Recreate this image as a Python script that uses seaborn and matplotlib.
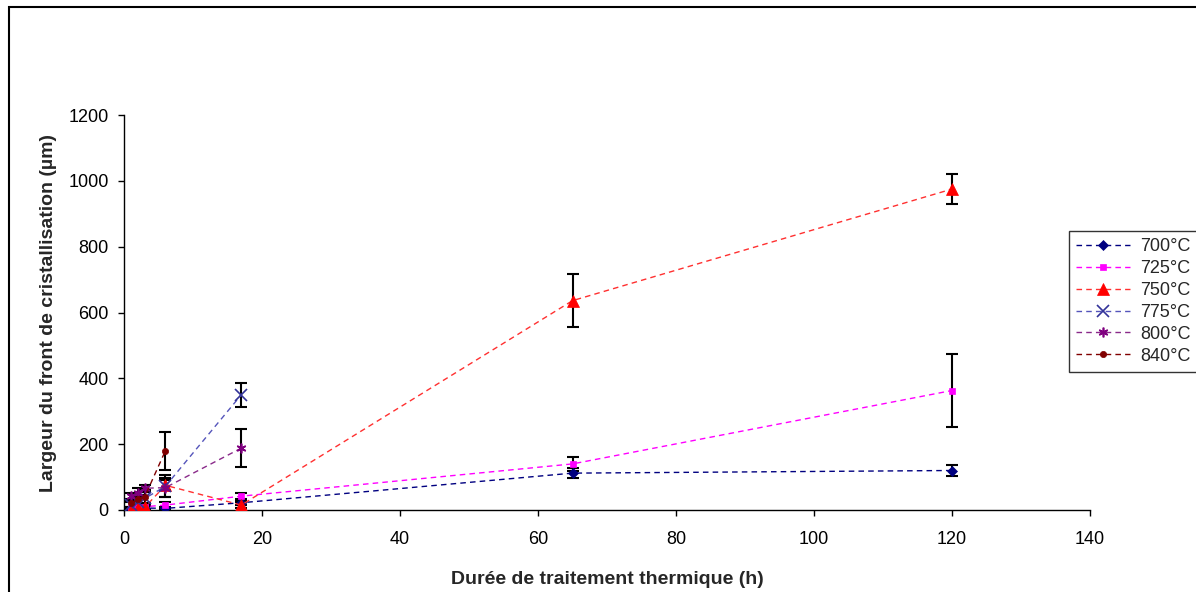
import numpy as np
import pandas as pd
import matplotlib
matplotlib.use("Agg")
import matplotlib.pyplot as plt
import seaborn as sns
from matplotlib.patches import Rectangle

# durations (h) and measured widths (um) per temperature
hours_long = [1, 2, 3, 6, 17, 65, 120]
hours_mid = [1, 2, 3, 6, 17]
hours_short = [1, 2, 3, 6]

w700 = [2, 4, 6, 5, 22, 112, 120]
e700 = [3, 4, 5, 5, 6, 15, 18]
w725 = [5, 8, 10, 15, 42, 140, 363]
e725 = [5, 6, 8, 8, 10, 20, 110]
w750 = [0, 5, 8, 75, 15, 636, 975]
e750 = [5, 8, 10, 15, 8, 80, 45]
w775 = [15, 25, 35, 72, 350]
e775 = [10, 15, 20, 33, 36]
w800 = [42, 52, 66, 68, 188]
e800 = [10, 15, 10, 30, 58]
w840 = [20, 32, 40, 180]
e840 = [10, 15, 20, 57]

labels = ["700°C", "725°C", "750°C", "775°C", "800°C", "840°C"]
colors = ["#000080", "#FF00FF", "#FF0000", "#333399", "#800080", "#800000"]
line_colors = ["#000080", "#FF00FF", "#FF3030", "#5555BB", "#8A2A8A", "#800000"]
markers = ["D", "s", "^", "x", (6, 2, 0), "o"]
msizes = [5, 4.5, 8.5, 8, 7, 4.5]

series = [
    (hours_long, w700, e700),
    (hours_long, w725, e725),
    (hours_long, w750, e750),
    (hours_mid, w775, e775),
    (hours_mid, w800, e800),
    (hours_short, w840, e840),
]

sns.set_theme(style="ticks")
plt.rcParams["font.family"] = ["Liberation Sans", "DejaVu Sans"]

fig = plt.figure(figsize=(11.96, 5.92), dpi=100)
ax = fig.add_axes([124 / 1196, 1 - 510 / 592, 966 / 1196, 395 / 592])

for (x, y, e), lab, col, lcol, mk, ms in zip(series, labels, colors, line_colors,
                                              markers, msizes):
    ax.errorbar(x, y, yerr=e, fmt="none", ecolor="black", elinewidth=1.5,
                capsize=4, capthick=1.5, zorder=2)
    df = pd.DataFrame({"h": x, "w": y})
    sns.lineplot(data=df, x="h", y="w", ax=ax, color=lcol, marker=mk,
                 markersize=ms, markeredgecolor=col, markerfacecolor=col,
                 markeredgewidth=1.2 if mk in ("x", (6, 2, 0)) else 0.5,
                 linestyle=(0, (4, 3)), linewidth=1.0, label=lab,
                 errorbar=None, sort=False, zorder=3)

ax.set_xlim(0, 140)
ax.set_ylim(0, 1200)
ax.set_xticks(np.arange(0, 141, 20))
ax.set_yticks(np.arange(0, 1201, 200))
ax.tick_params(axis="both", labelsize=13, length=4.5, width=1, colors="black",
               direction="out", pad=6.5)
ax.tick_params(axis="x", pad=10.5)
sns.despine(ax=ax)
for side in ("left", "bottom"):
    ax.spines[side].set_color("black")
    ax.spines[side].set_linewidth(1)

ax.set_xlabel("Durée de traitement thermique (h)", fontsize=14, fontweight="bold",
              labelpad=16.5)
ax.set_ylabel("Largeur du front de cristallisation (µm)", fontsize=14,
              fontweight="bold", labelpad=8)

leg = ax.legend(loc="upper left", bbox_to_anchor=(1069 / 1196, 1 - 231 / 592),
                bbox_transform=fig.transFigure, frameon=True, fancybox=False,
                fontsize=13, handlelength=3.0, borderpad=0.4, labelspacing=0.27,
                handletextpad=0.55, borderaxespad=0)
leg.get_frame().set_edgecolor("black")
leg.get_frame().set_linewidth(1)

fig.add_artist(Rectangle((9 / 1196, -0.1), 1.2, 0.1 + 1 - 7 / 592,
                         transform=fig.transFigure, fill=False,
                         edgecolor="black", linewidth=1.5))

fig.savefig("out.png", dpi=100)
